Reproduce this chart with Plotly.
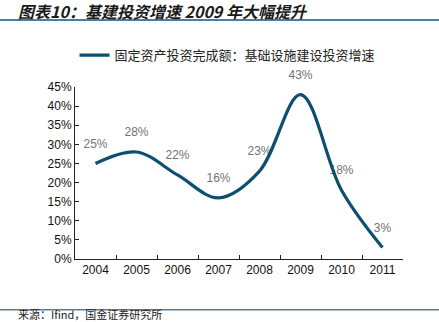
import plotly.graph_objects as go

years = ["2004", "2005", "2006", "2007", "2008", "2009", "2010", "2011"]
growth = [25, 28, 22, 16, 23, 43, 18, 3]
labels = [f"{v}%" for v in growth]
y_ticks = [0, 5, 10, 15, 20, 25, 30, 35, 40, 45]
y_ticktext = [f"{v}%" for v in y_ticks]

series_name = "固定资产投资完成额：基础设施建设投资增速"
title_text = "图表10：基建投资增速 2009 年大幅提升"
source_text = "来源：Ifind，国金证券研究所"

line_color = "#0d4f70"
cjk = "Noto Sans CJK SC"
latin = "Liberation Sans, Arial"

fig = go.Figure()

# data labels (drawn under the line), pushed up by an invisible marker
fig.add_trace(go.Scatter(
    x=years, y=growth, mode="markers+text", text=labels,
    textposition="top center",
    marker=dict(size=19, color="rgba(0,0,0,0)"),
    textfont=dict(family=latin, size=12, color="#737373"),
    showlegend=False, hoverinfo="skip", cliponaxis=False,
))

fig.add_trace(go.Scatter(
    x=years, y=growth, mode="lines", name=series_name,
    line=dict(color=line_color, width=3.2, shape="spline", smoothing=1.0),
))

fig.update_layout(
    width=439, height=322,
    margin=dict(l=75, r=36, t=87, b=63),
    paper_bgcolor="white", plot_bgcolor="white",
    showlegend=True,
    legend=dict(
        orientation="h", x=0.465, xanchor="center", y=1.185, yanchor="middle",
        font=dict(family=cjk, size=13, color="#222222"),
        itemwidth=30, bgcolor="rgba(0,0,0,0)",
    ),
    xaxis=dict(
        type="category", range=[-0.5, 7.5],
        showline=True, linecolor="#222222", linewidth=1,
        ticks="inside", ticklen=4, tickcolor="#222222", tickson="boundaries",
        showgrid=False, zeroline=False,
        tickfont=dict(family=latin, size=12, color="#111111"),
    ),
    yaxis=dict(
        range=[0, 45], tickvals=y_ticks, ticktext=y_ticktext,
        showline=True, linecolor="#222222", linewidth=1,
        ticks="inside", ticklen=4, tickcolor="#222222",
        showgrid=False, zeroline=False,
        tickfont=dict(family=latin, size=12, color="#111111"),
    ),
    shapes=[
        dict(type="line", xref="paper", yref="paper", x0=-0.2287, x1=1.11,
             y0=1.39, y1=1.39, line=dict(color="#4a7fa5", width=2)),
        dict(type="line", xref="paper", yref="paper", x0=-0.2287, x1=1.11,
             y0=-0.295, y1=-0.295, line=dict(color="#4a7fa5", width=1.5)),
    ],
    annotations=[
        dict(text=title_text, xref="paper", yref="paper", x=-0.18, y=1.44,
             xanchor="left", yanchor="middle", showarrow=False,
             font=dict(family=cjk, size=16, color="#1a1a1a", weight="bold", style="italic")),
        dict(text=source_text, xref="paper", yref="paper", x=-0.18, y=-0.322,
             xanchor="left", yanchor="middle", showarrow=False,
             font=dict(family=cjk, size=11, color="#222222")),
    ],
)

fig.write_html("out.html")
